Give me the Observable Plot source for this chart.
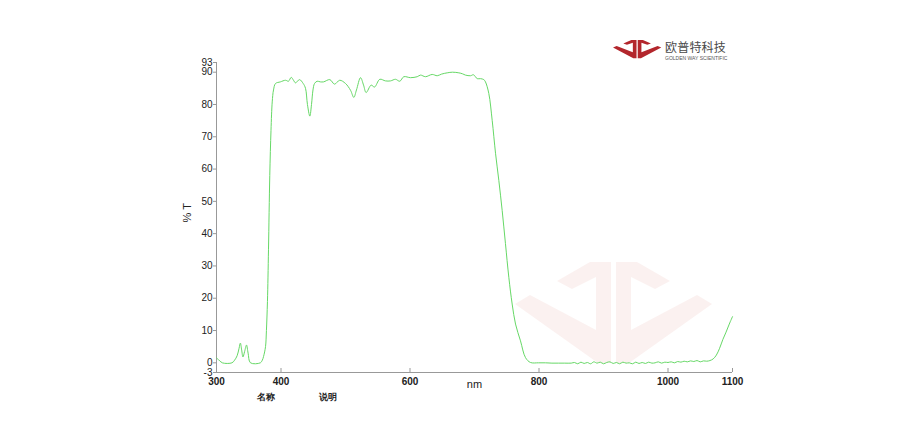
<!DOCTYPE html>
<html>
<head>
<meta charset="utf-8">
<script src="https://cdn.jsdelivr.net/npm/d3@7"></script>
<script src="https://cdn.jsdelivr.net/npm/@observablehq/plot@0.6"></script>
<style>
  html, body { margin: 0; padding: 0; background: #fff; }
  #wrap { position: relative; width: 924px; height: 440px; overflow: hidden; font-family: "Liberation Sans", Arial, sans-serif; }
  #wm, #logo { position: absolute; left: 0; top: 0; }
  #chart { position: absolute; left: 0; top: 0; }
  .lbl { position: absolute; font-size: 9px; font-weight: bold; color: #222; }
  .brand { position: absolute; left: 665px; top: 40px; font-family: "Noto Sans CJK SC", sans-serif; font-size: 12px; color: #4a4a4a; letter-spacing: 0.2px; line-height: 14px; }
  .brand-en { position: absolute; left: 665px; top: 55px; font-size: 5px; color: #555; letter-spacing: 0px; line-height: 6px; }
</style>
</head>
<body>
<div id="wrap">
  <svg id="wm" width="924" height="440"></svg>
  <div id="chart"></div>
  <div class="brand">欧普特科技</div>
  <div class="brand-en">GOLDEN WAY SCIENTIFIC</div>
  <div class="lbl" style="left:257px; top:391px;">名称</div>
  <div class="lbl" style="left:319px; top:391px;">说明</div>
</div>
<script>
// Wavelength (nm) and transmittance (%T)
const wavelength = [
  300, 303, 309, 324, 328, 332, 335, 337, 339, 341, 343.6, 346.5, 349, 352.7, 368, 371, 373, 376,
  377.4, 379, 380.6, 382.6, 384.5, 386.4, 388.4, 391.5, 399, 407, 411.6, 415.8, 419.4, 422.5, 428.7,
  434.4, 438, 441, 444.7, 447.3, 449.6, 452, 456, 461, 466, 475.7, 483, 491, 500, 507.8, 512.9, 517,
  523.3, 528, 532, 539.8, 545, 553.2, 562, 569.8, 577.5, 584.2, 590.4, 600.8, 611.2, 616.3, 624,
  634.4, 642.2, 648.8, 657.7, 666, 675.7, 681.4, 686, 693.8, 698.4, 704.2, 709.3, 714.4, 717,
  722.2, 727.4, 732.6, 737.7, 742.9, 748, 753.2, 758.4, 763.6, 771.3, 779.1, 786.8, 799.2,
  810, 820, 830, 840, 850, 855, 860, 865, 870, 875, 880, 885, 890, 895, 900, 905, 910, 915, 920,
  925, 930, 935, 940, 945, 950, 955, 960, 965, 970, 975, 980, 985, 990, 995, 1000, 1005, 1010,
  1015, 1020, 1025, 1030, 1035, 1040, 1045, 1050, 1055, 1060, 1065, 1070, 1075, 1080, 1085, 1090,
  1095, 1100
];
const transmittance = [
  1.5, 1.0, 0, 0, 0.8, 2.2, 4.5, 6.1, 4.0, 1.8, 3.5, 5.5, 3.0, 0, 0, 0.8, 2.0, 5.0,
  10, 19, 35, 58, 72, 80.8, 84.5, 86.5, 87, 87.5, 87.2, 88.4, 87.5, 86.7, 87.7,
  86.5, 85, 80, 76.4, 80, 84.5, 86.5, 87.2, 87, 87, 87.7, 86.3, 87.5, 86.5, 84.4, 82.2, 84.5,
  88.3, 86, 83.7, 86, 85.4, 87.8, 87.3, 87.3, 87.8, 87.2, 88.6, 88.3, 88.6, 89.1, 88.6,
  89.3, 88.9, 89.4, 89.8, 90, 89.8, 89.5, 89.1, 88.9, 89.2, 88, 88, 87.7, 87,
  83.4, 75.1, 64.9, 56.5, 47.2, 36.9, 26.5, 18.2, 12, 6.8, 1.6, 0.1, 0,
  0, -0.1, -0.1, -0.1, -0.1, 0.1, -0.3, 0.2, -0.2, 0.1, -0.3, 0.3, -0.1, 0.2, -0.3, 0.1, 0.3, -0.2, 0.1,
  -0.3, 0.2, -0.1, 0.0, -0.3, 0.2, -0.2, 0.1, -0.2, 0.2, -0.1, 0.0, 0.3, -0.1, 0.2, 0.1, 0.3, 0.0,
  0.4, 0.2, 0.5, 0.3, 0.6, 0.4, 0.7, 0.3, 0.6, 0.5, 0.7, 1.2, 2.4, 4.5, 7.2, 9.5,
  12, 14.3
];
const xTicks = [300, 400, 600, 800, 1000, 1100];
const yTicks = [93, 90, 80, 70, 60, 50, 40, 30, 20, 10, 0, -3];
const xDomain = [300, 1100];
const yDomain = [-3, 93];

const spectrum = wavelength.map((w, i) => ({w, t: transmittance[i]}));

const font = "Liberation Sans, Arial, sans-serif";
const chart = Plot.plot({
  width: 924,
  height: 440,
  marginTop: 62,
  marginBottom: 68,
  marginLeft: 216,
  marginRight: 192,
  style: {fontFamily: font, fontSize: "10px", background: "transparent", color: "#222"},
  x: {domain: xDomain, ticks: xTicks},
  y: {domain: yDomain, ticks: yTicks},
  marks: [
    Plot.ruleX([xDomain[0]], {stroke: "#999"}),
    Plot.ruleY([yDomain[0]], {stroke: "#999"}),
    Plot.axisY({ticks: yTicks, tickSize: 3, tickPadding: 1, stroke: "#999", label: null, fill: "#222", tickFormat: d => String(d)}),
    Plot.axisX({ticks: xTicks, tickSize: 0, tickPadding: 5, label: null, fill: "#222", fontWeight: "bold", tickFormat: d => String(d)}),
    Plot.axisX({ticks: xTicks, tickSize: -4, text: null, stroke: "#999", label: null}),
    Plot.line(spectrum, {x: "w", y: "t", stroke: "#66d866", strokeWidth: 1, curve: "catmull-rom"}),
    Plot.text(["nm"], {text: d => d, frameAnchor: "bottom", dy: 15, fontSize: 11, fill: "#222"}),
    Plot.text(["% T"], {text: d => d, frameAnchor: "left", dx: -29, dy: 5, rotate: -90, fontSize: 11, fill: "#222"})
  ]
});
document.getElementById("chart").appendChild(chart);

// Brand logo (decoration): two mirrored chevron shapes
const shapeL = [[75,0],[96,0],[96,101],[83,101],[0,42],[15,33],[81,68],[81,15],[57,27],[42,19]];
const shapeR = shapeL.map(([x, y]) => [197 - x, y]);
const toPath = pts => "M" + pts.map(p => p.join(",")).join("L") + "Z";
const wm = d3.select("#wm");
wm.append("g").attr("transform", "translate(515,262)")
  .selectAll("path").data([shapeL, shapeR]).join("path")
  .attr("d", toPath).attr("fill", "#c0392b").attr("fill-opacity", 0.07);
wm.append("g").attr("transform", "translate(613,40) scale(0.245,0.18)")
  .selectAll("path").data([shapeL, shapeR]).join("path")
  .attr("d", toPath).attr("fill", "#b3262c");
</script>
</body>
</html>
